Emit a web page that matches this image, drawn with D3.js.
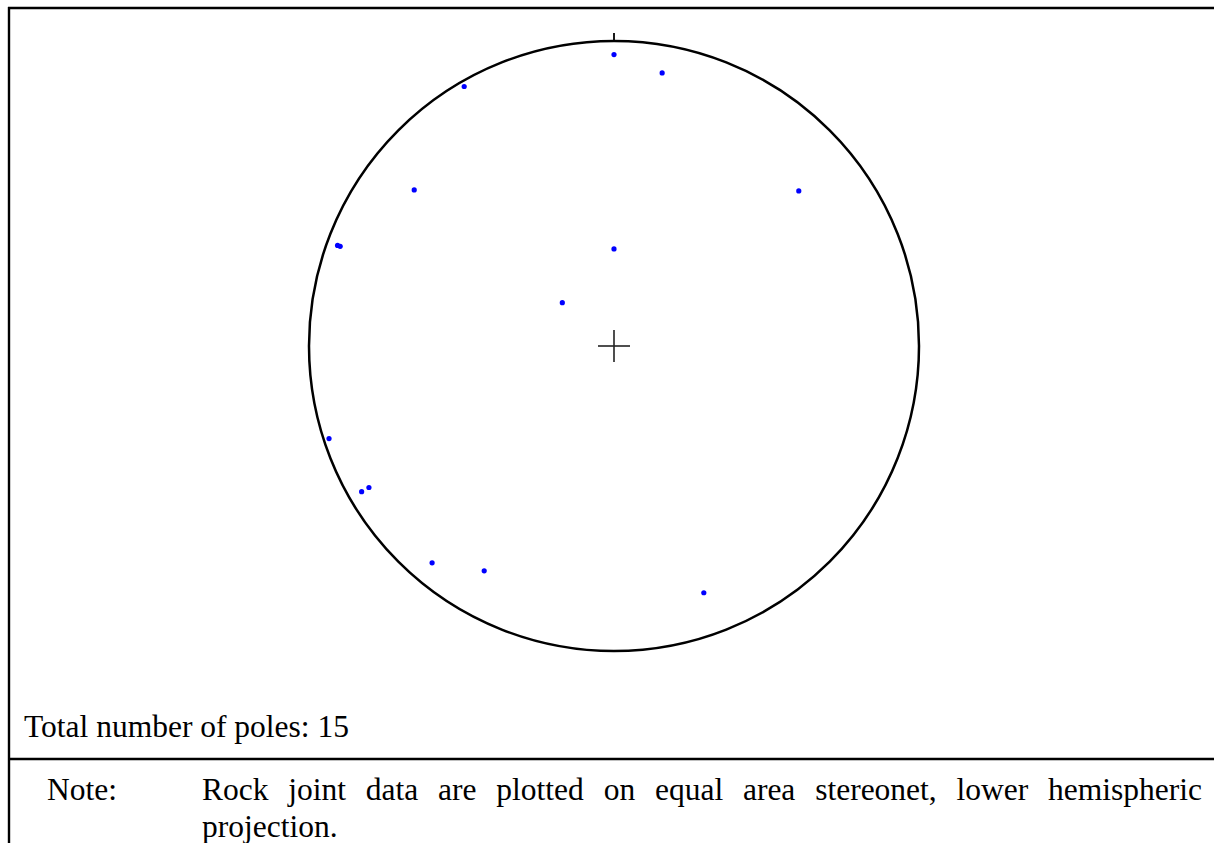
<!DOCTYPE html>
<html>
<head>
<meta charset="utf-8">
<script src="https://cdn.jsdelivr.net/npm/d3@7"></script>
<style>
  html, body { margin: 0; padding: 0; background: #fff; }
  svg { display: block; }
  text { font-family: "Liberation Serif", "Times New Roman", serif; fill: #000; }
</style>
</head>
<body>
<div id="chart"></div>
<script>
// poles of rock joints (degrees)
var trend  = [0, 10, 330, 308, 50, 290, 290, 0, 310, 252, 240, 240, 220, 210, 160];
var plunge = [5, 10, 2, 18, 22, 4, 5, 64, 72, 2, 5, 8, 8, 16, 15];

var countLabel = "Total number of poles: " + trend.length;
var noteLabel = "Note:";
var noteLines = ["Rock joint data are plotted on equal area stereonet, lower hemispheric",
                 "projection."];

var W = 1214, H = 843;
var cx = 614, cy = 346, R = 305;

var svg = d3.select("#chart").append("svg")
    .attr("width", W)
    .attr("height", H);

// unit circle scales for the net
var x = d3.scaleLinear().domain([-1, 1]).range([cx - R, cx + R]);
var y = d3.scaleLinear().domain([-1, 1]).range([cy + R, cy - R]);

// equal area (Schmidt) projection, lower hemisphere
function project(t, p) {
    var rad = Math.PI / 180;
    var r = Math.SQRT2 * Math.sin((90 - p) * rad / 2);
    return [r * Math.sin(t * rad), r * Math.cos(t * rad)];
}

var poles = trend.map(function(t, i){ return project(t, plunge[i]); });

// frame lines
svg.append("line").attr("x1", 8).attr("x2", W).attr("y1", 8).attr("y2", 8)
    .attr("stroke", "#000").attr("stroke-width", 2.4);
svg.append("line").attr("x1", 9).attr("x2", 9).attr("y1", 7).attr("y2", H)
    .attr("stroke", "#000").attr("stroke-width", 2.4);
svg.append("line").attr("x1", 8).attr("x2", W).attr("y1", 759).attr("y2", 759)
    .attr("stroke", "#000").attr("stroke-width", 2.4);

// primitive circle
svg.append("circle")
    .attr("cx", x(0)).attr("cy", y(0)).attr("r", x(1) - x(0))
    .attr("fill", "none").attr("stroke", "#000").attr("stroke-width", 2.5);

// north tick
svg.append("line")
    .attr("x1", x(0)).attr("x2", x(0))
    .attr("y1", y(1) - 8).attr("y2", y(1))
    .attr("stroke", "#000").attr("stroke-width", 1.8);

// centre cross
var c = 16 / R;
svg.append("line")
    .attr("x1", x(-c)).attr("x2", x(c)).attr("y1", y(0)).attr("y2", y(0))
    .attr("stroke", "#222").attr("stroke-width", 1.6);
svg.append("line")
    .attr("x1", x(0)).attr("x2", x(0)).attr("y1", y(c)).attr("y2", y(-c))
    .attr("stroke", "#222").attr("stroke-width", 1.6);

// poles
svg.selectAll("circle.pole")
    .data(poles)
  .enter().append("circle")
    .attr("class", "pole")
    .attr("cx", function(d){ return x(d[0]); })
    .attr("cy", function(d){ return y(d[1]); })
    .attr("r", 2.6)
    .attr("fill", "#0000ff");

// captions
svg.append("text")
    .attr("x", 24).attr("y", 737)
    .style("font-size", "31.5px")
    .text(countLabel);

svg.append("text")
    .attr("x", 47).attr("y", 800)
    .style("font-size", "31.5px")
    .text(noteLabel);

// first note line is justified between 202 and 1202
var left = 202, right = 1202;
var words = noteLines[0].split(" ");
var g = svg.append("g");
var wnodes = words.map(function(w){
    return g.append("text").attr("y", 800).style("font-size", "31.5px").text(w);
});
var widths = wnodes.map(function(n){ return n.node().getComputedTextLength(); });
var gap = (right - left - d3.sum(widths)) / (words.length - 1);
var pos = left;
wnodes.forEach(function(n, i){
    n.attr("x", pos);
    pos += widths[i] + gap;
});

svg.append("text")
    .attr("x", left).attr("y", 837)
    .style("font-size", "31.5px")
    .text(noteLines[1]);
</script>
</body>
</html>
